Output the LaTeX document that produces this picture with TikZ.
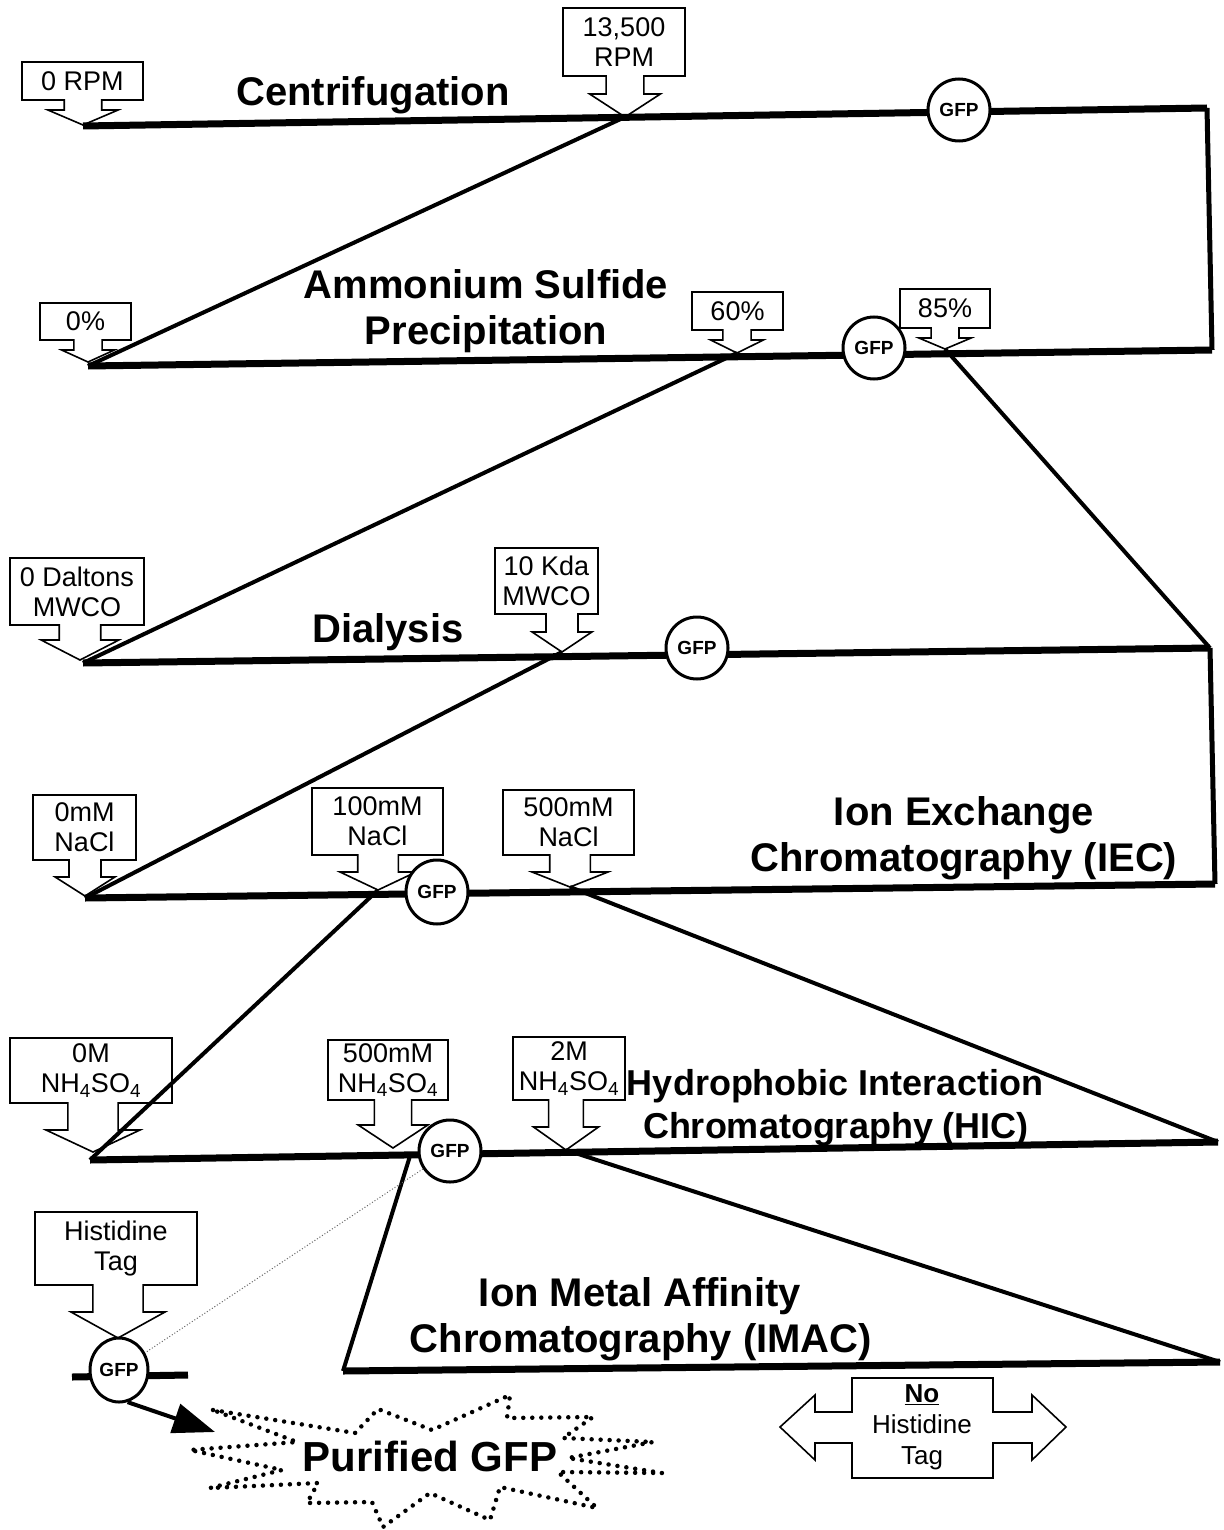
\documentclass[tikz,border=0pt]{standalone}
\usepackage{fontspec}
\setmainfont{Liberation Sans}
\usetikzlibrary{arrows.meta,shapes.geometric}
\tikzset{
  mainline/.style={line width=7pt},
  diagline/.style={line width=4pt},
  sideline/.style={line width=5pt, line cap=square},
  callline/.style={line width=1.6pt, line join=miter},
  calltext/.style={font=\fontsize{27}{30}\selectfont, align=center, inner sep=0pt},
  title/.style={font=\fontsize{40}{46}\selectfont\bfseries, anchor=base, inner sep=0pt},
  smalltitle/.style={font=\fontsize{36}{42}\selectfont\bfseries, anchor=base, inner sep=0pt},
  gfp/.style={ellipse, draw, line width=3pt, fill=white, minimum width=62pt, minimum height=62pt, inner sep=0pt, font=\fontsize{19}{19}\selectfont\bfseries},
  starline/.style={line width=4.5pt, line cap=round, dash pattern=on 0pt off 9pt},
  tagline/.style={line width=1pt, dotted, black!60},
  bigarrow/.style={line width=4pt, -{Triangle[length=42pt,width=30pt]}},
}
\newcommand{\callout}[9]{%
  \pgfmathsetmacro{\sw}{0.155*(#3-#2)}%
  \pgfmathsetmacro{\ww}{0.29*(#3-#2)}%
  \draw[callline] (#2,#4) -- (#3,#4) -- (#3,#5) -- ({#6+\sw},#5) -- ({#6+\sw},#7) -- ({#6+\ww},#7) -- (#6,#8) -- ({#6-\ww},#7) -- ({#6-\sw},#7) -- ({#6-\sw},#5) -- (#2,#5) -- cycle;
  \node[calltext] (#1) at ({(#2+#3)/2},{(#4+#5)/2}) {#9};
  \coordinate (#1tip) at (#6,#8);
}
\begin{document}
\begin{tikzpicture}[x=1pt,y=-1pt]
\useasboundingbox[fill=white] (0,0) rectangle (1223,1530);

% line end points
\coordinate (a1) at (83,126);   \coordinate (b1) at (1207,108);
\coordinate (a2) at (88,366);   \coordinate (b2) at (1212,350);
\coordinate (a3) at (83,663);   \coordinate (b3) at (1210,648);
\coordinate (a4) at (85,898);   \coordinate (b4) at (1215,884);
\coordinate (a5) at (90,1160);  \coordinate (b5) at (1218,1142);
\coordinate (a6) at (343,1371); \coordinate (b6) at (1220,1362);
\coordinate (c5) at (410,1156);

% callouts
\callout{rpm0}{22}{143}{62}{100}{83}{110}{125}{0 RPM}
\callout{rpm1}{563}{685}{8}{76}{625}{94}{117}{13,500\\RPM}
\callout{as0}{40}{131}{303}{340}{88}{350}{362}{0\%}
\callout{as60}{692}{783}{292}{330}{737}{340}{353}{60\%}
\callout{as85}{900}{990}{289}{328}{945}{338}{349}{85\%}
\callout{dl0}{10}{144}{558}{625}{80}{640}{660}{0 Daltons\\MWCO}
\callout{dl10}{495}{598}{548}{614}{562}{632}{652}{10 Kda\\MWCO}
\callout{ie0}{33}{136}{795}{860}{85}{877}{896}{0mM\\NaCl}
\callout{ie100}{312}{443}{788}{855}{378}{872}{890}{100mM\\NaCl}
\callout{ie500}{503}{634}{790}{855}{570}{872}{887}{500mM\\NaCl}
\callout{hi0}{10}{172}{1038}{1103}{93}{1130}{1152}{0M\\NH\textsubscript{4}SO\textsubscript{4}}
\callout{hi500}{328}{448}{1040}{1100}{393}{1125}{1148}{500mM\\NH\textsubscript{4}SO\textsubscript{4}}
\callout{hi2}{513}{625}{1037}{1100}{566}{1127}{1150}{2M\\NH\textsubscript{4}SO\textsubscript{4}}
\callout{his}{35}{197}{1212}{1285}{118}{1312}{1338}{Histidine\\Tag}

% main lines
\draw[mainline] (a1) -- (b1);
\draw[mainline] (a2) -- (b2);
\draw[mainline] (a3) -- (b3);
\draw[mainline] (a4) -- (b4);
\draw[mainline] (a5) -- (b5);
\draw[mainline] (a6) -- (b6);
% side connectors
\draw[sideline] (b1) -- (b2);
\draw[sideline] (b3) -- (b4);
% diagonals
\draw[diagline] (rpm1tip) -- (a2);
\draw[diagline] (as60tip) -- (a3);
\draw[diagline] (as85tip) -- (b3);
\draw[diagline] (dl10tip) -- (a4);
\draw[diagline] (ie100tip) -- (a5);
\draw[diagline] (ie500tip) -- (b5);
\draw[diagline] (c5) -- (a6);
\draw[diagline] (hi2tip) -- (b6);

% histidine bar
\coordinate (hl) at (72,1377); \coordinate (hr) at (188,1375);
\draw[mainline] (hl) -- (hr);

% GFP markers
\node[gfp] (g1) at (959,110) {GFP};
\node[gfp] (g2) at (874,348) {GFP};
\node[gfp] (g3) at (697,648) {GFP};
\node[gfp, minimum height=64pt] (g4) at (437,892) {GFP};
\node[gfp] (g5) at (450,1151) {GFP};
\node[gfp, minimum width=58pt, minimum height=64pt] (g6) at (119,1370) {GFP};

\draw[tagline] (g5) -- (g6);

% titles
\node[title] (t1) at (373,106) {Centrifugation};
\node[title] (t2a) at (486,298) {Ammonium Sulfide};
\node[title] (t2b) at (486,344) {Precipitation};
\node[title] (t3) at (388,642) {Dialysis};
\node[title] (t4a) at (964,825) {Ion Exchange};
\node[title] (t4b) at (964,871) {Chromatography (IEC)};
\node[smalltitle] (t5a) at (835,1095) {Hydrophobic Interaction};
\node[smalltitle] (t5b) at (836,1138) {Chromatography (HIC)};
\node[title] (t6a) at (640,1306) {Ion Metal Affinity};
\node[title] (t6b) at (641,1352) {Chromatography (IMAC)};

% purified GFP starburst
\draw[starline] (213,1410) -- (355,1433) -- (378,1409) -- (432,1430) -- (510,1395) -- (507,1418) -- (593,1417) -- (563,1438) -- (653,1442) -- (568,1458) -- (662,1473) -- (558,1472) -- (597,1508) -- (500,1487) -- (490,1520) -- (430,1493) -- (383,1527) -- (372,1502) -- (307,1503) -- (318,1483) -- (210,1488) -- (282,1470) -- (190,1450) -- (297,1442) -- cycle;
\node[font=\fontsize{42}{46}\selectfont\bfseries, anchor=base, inner sep=0pt] (pur) at (430,1471) {Purified GFP};
\coordinate (arrend) at (215,1432);
\draw[bigarrow] (g6.-75) -- (arrend);

% No histidine tag double arrow
\draw[callline] (852,1378) -- (993,1378) -- (993,1412) -- (1032,1412) -- (1032,1395) -- (1066,1427) -- (1032,1460) -- (1032,1443) -- (993,1443) -- (993,1478) -- (852,1478) -- (852,1443) -- (815,1443) -- (815,1460) -- (780,1427) -- (815,1395) -- (815,1412) -- (852,1412) -- cycle;
\node[calltext, font=\fontsize{26}{31}\selectfont] (nohis) at (922,1427) {\textbf{\underline{No}}\\Histidine\\Tag};
\end{tikzpicture}
\end{document}
